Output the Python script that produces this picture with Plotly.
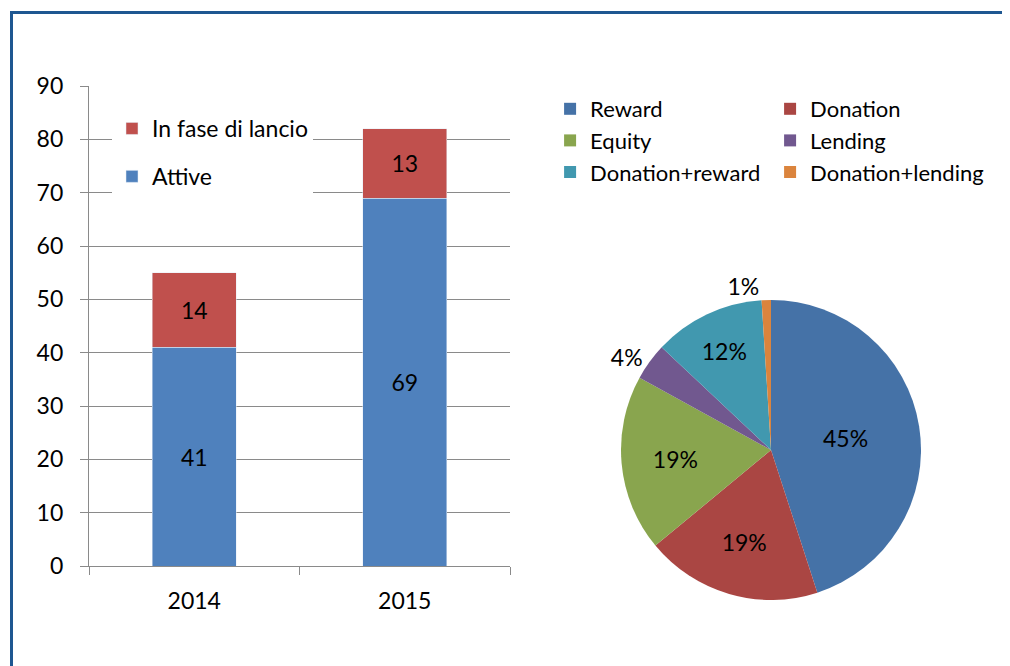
import plotly.graph_objects as go

# ---- data ----
years = ["2014", "2015"]
attive = [41, 69]
in_fase = [14, 13]

pie_labels = ["Reward", "Donation", "Equity", "Lending", "Donation+reward", "Donation+lending"]
pie_values = [45, 19, 19, 4, 12, 1]
pie_colors = ["#4572A7", "#AA4643", "#89A54E", "#71588F", "#4198AF", "#DB843D"]
pie_textpos = ["inside", "inside", "inside", "outside", "inside", "outside"]

# ---- layout geometry ----
# the page body adds an 8px margin; helpers take page pixel positions
OFF = 8
W, H = 1010 - OFF, 666 - OFF
ML = 89 - OFF          # plot area left  (page x 89)
MT = 86 - OFF          # plot area top   (page y 86)
MR = W - (990 - OFF)   # plot area right (page x 990)
MB = H - (620 - OFF)   # plot area bottom (page y 620)
GW = W - ML - MR
GH = H - MT - MB

def px_x(x):
    return (x - OFF - ML) / GW

def px_y(y):
    return (H - MB - (y - OFF)) / GH

FONT = "Lato, Carlito, Calibri, sans-serif"
FS = 23
GRID = "#8A8A8A"

fig = go.Figure()

fig.add_trace(go.Bar(
    x=years, y=attive, name="Attive", marker_color="#4F81BD",
    width=0.4, text=attive, textposition="inside", insidetextanchor="middle",
    textfont=dict(color="black", size=FS, family=FONT), constraintext="none",
    legendgroup="a", legendrank=2, legend="legend"))
fig.add_trace(go.Bar(
    x=years, y=in_fase, name="In fase di lancio", marker_color="#C0504D",
    width=0.4, text=in_fase, textposition="inside", insidetextanchor="middle",
    textfont=dict(color="black", size=FS, family=FONT), constraintext="none",
    legendgroup="b", legendrank=1, legend="legend"))

fig.add_trace(go.Pie(
    labels=pie_labels, values=pie_values, sort=False, direction="clockwise",
    rotation=0, marker=dict(colors=pie_colors, line=dict(width=0)),
    textinfo="percent", textposition=pie_textpos,
    insidetextorientation="horizontal",
    textfont=dict(color="black", size=FS, family=FONT),
    domain=dict(x=[px_x(621), px_x(921)], y=[px_y(600), px_y(300)]),
    legend="legend2", showlegend=True, hoverinfo="label+percent"))

fig.update_layout(
    width=W, height=H,
    margin=dict(l=ML, r=MR, t=MT, b=MB, autoexpand=False),
    paper_bgcolor="white", plot_bgcolor="white",
    barmode="stack",
    font=dict(family=FONT, size=FS, color="black"),
    xaxis=dict(domain=[0, px_x(510)], type="category", showline=True,
               linecolor=GRID, linewidth=1.3, ticks="outside", tickson="boundaries",
               ticklen=8, tickcolor=GRID, showgrid=False, ticklabelstandoff=14,
               tickfont=dict(size=FS, family=FONT, color="black")),
    yaxis=dict(domain=[px_y(566), 1], range=[0, 90], dtick=10, showline=True,
               linecolor=GRID, linewidth=1.3, ticks="outside", ticklen=8,
               tickcolor=GRID, gridcolor=GRID, gridwidth=1.3, zeroline=False,
               ticklabelstandoff=12,
               tickfont=dict(size=FS, family=FONT, color="black")),
    legend=dict(x=px_x(112), y=px_y(107), xanchor="left", yanchor="top",
                bgcolor="white", traceorder="grouped",
                tracegroupgap=15, font=dict(size=FS, family=FONT, color="black")),
    legend2=dict(x=1.0001, y=px_y(88), xanchor="right", yanchor="top",
                 orientation="h", entrywidth=175, bgcolor="rgba(0,0,0,0)",
                 font=dict(size=22, family=FONT, color="black")),
    shapes=[
        dict(type="line", xref="paper", yref="paper",
             x0=px_x(12), x1=px_x(1012), y0=px_y(12.5), y1=px_y(12.5),
             line=dict(color="#1E5791", width=3)),
        dict(type="line", xref="paper", yref="paper",
             x0=px_x(11.5), x1=px_x(11.5), y0=px_y(11), y1=px_y(670),
             line=dict(color="#1E5791", width=3)),
    ],
)

fig.write_html("out.html")
